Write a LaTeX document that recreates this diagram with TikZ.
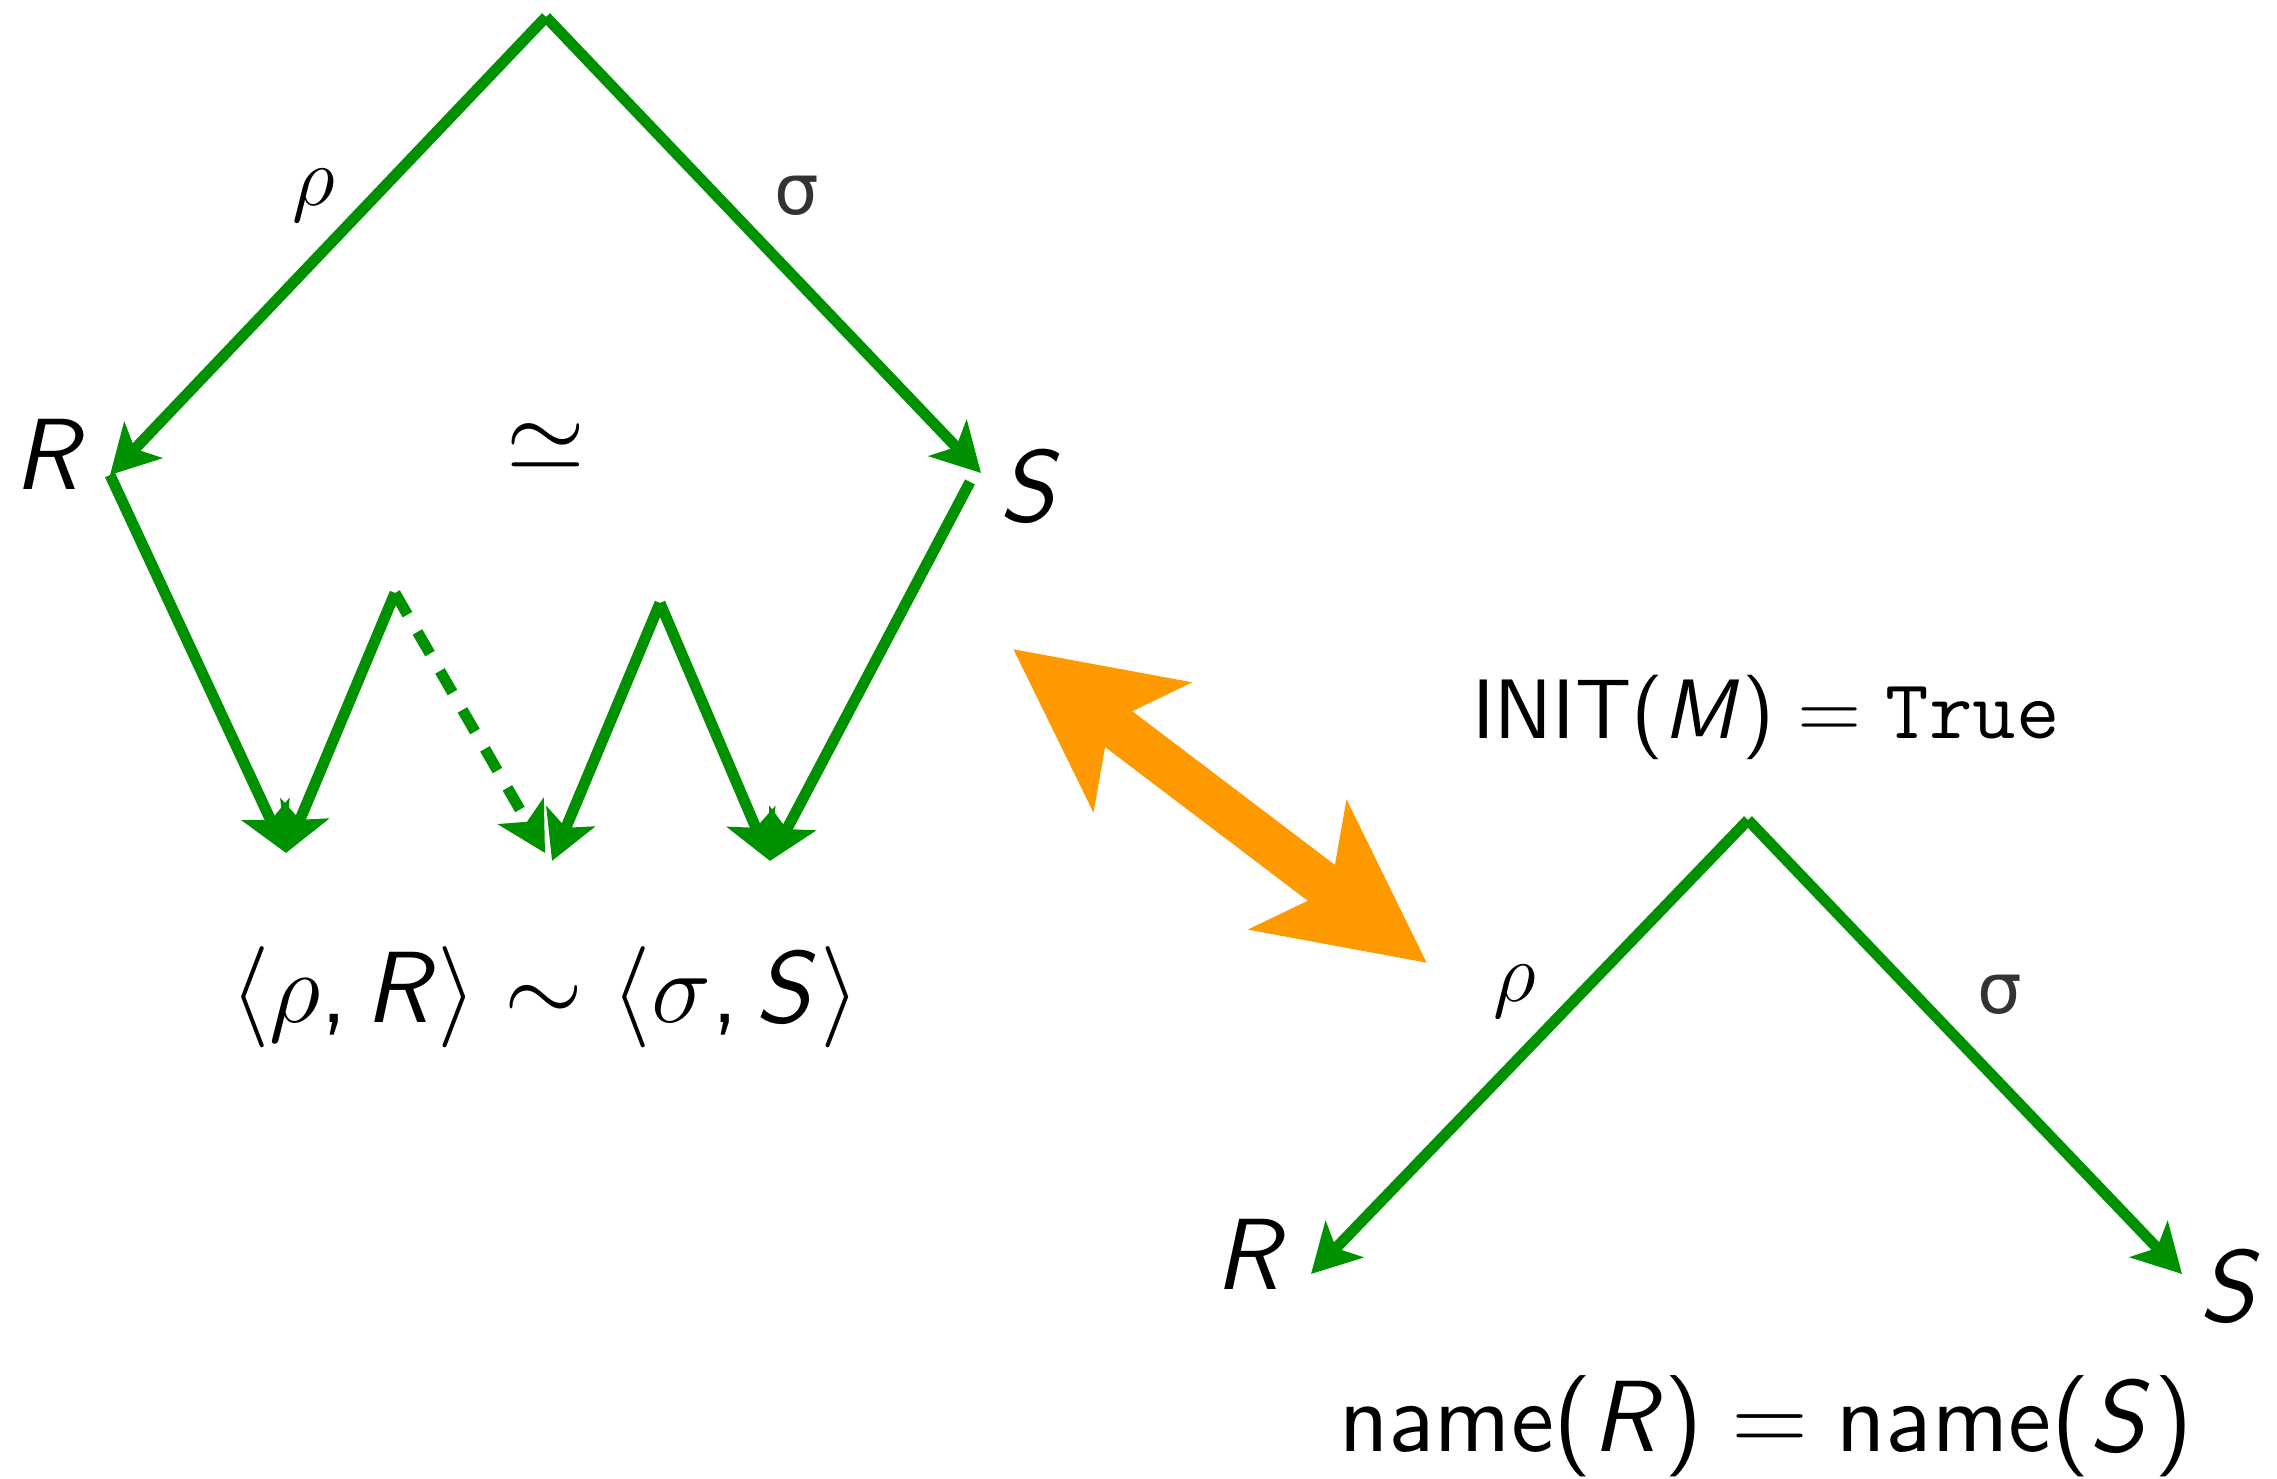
\documentclass[tikz,border=0pt]{standalone}
\usepackage[no-math]{fontspec}
\renewcommand\sfdefault{cmss}
\usepackage{sansmath}
\renewcommand\sfdefault{lmss}
\usetikzlibrary{arrows.meta}
\newfontfamily\greeksans{DejaVu Sans}
\definecolor{mapgreen}{RGB}{0,145,0}
\definecolor{linkorange}{RGB}{255,153,0}
\begin{document}
\begin{tikzpicture}[x=1cm,y=1cm,
    garrow/.style={color=mapgreen,line width=0.11cm,-{Stealth[length=0.48cm,width=0.52cm,inset=0.12cm]}},
    gdash/.style={garrow,dash pattern=on 0.25cm off 0.2cm},
    bigarrow/.style={color=linkorange,line width=0.45cm,
      {Stealth[length=1.6cm,width=1.58cm,inset=0.39cm]}-{Stealth[length=1.6cm,width=1.58cm,inset=0.39cm]}},
    lbl/.style={font=\sffamily\sansmath\fontsize{14}{17}\selectfont,scale=2,inner sep=0pt},
    ilbl/.style={font=\sffamily\sansmath\fontsize{12}{14}\selectfont,scale=2,inner sep=0pt},
    elbl/.style={font=\sffamily\sansmath\fontsize{12}{14}\selectfont,scale=2,inner sep=0pt},
    slbl/.style={font=\greeksans\fontsize{10}{12}\selectfont,scale=2,text=black!80,inner sep=0pt}]
  \useasboundingbox (0,0) rectangle (22.77,14.79);
  % left picture
  \coordinate (top) at (5.46,14.62);
  \coordinate (r)   at (1.10,10.04) node (rlab) at (0.51,10.25) [lbl] {$R$};
  \coordinate (s)   at (9.81,10.06) node (slab) at (10.32,9.93) [lbl] {$S$};
  \coordinate (sfoot) at (9.70,9.97);
  \coordinate (p)   at (3.95,8.86);
  \coordinate (q)   at (6.60,8.76);
  \coordinate (u)   at (2.86,6.26);
  \coordinate (v)   at (5.45,6.26);
  \coordinate (vv)  at (5.52,6.18);
  \coordinate (w)   at (7.70,6.18);
  \node (rho)  at (3.14,12.83) [elbl] {$\rho$};
  \node (sig)  at (7.97,12.83) [slbl] {σ};
  \node (iso)  at (5.46,10.32) [lbl] {$\simeq$};
  \node (equiv) at (5.45,4.56) [lbl,anchor=base] {$\langle\rho, R\rangle \sim \langle\sigma, S\rangle$};
  \draw [garrow] (top)--(r);
  \draw [garrow] (top)--(s);
  \draw [garrow] (r)--(u);
  \draw [garrow] (p)--(u);
  \draw [gdash] (p)--(v);
  \draw [garrow] (q)--(vv);
  \draw [garrow] (q)--(w);
  \draw [garrow] (sfoot)--(w);
  % right picture
  \coordinate (top2) at (17.48,6.59);
  \coordinate (r2)   at (13.11,2.05) node (rlab2) at (12.52,2.25) [lbl] {$R$};
  \coordinate (s2)   at (21.82,2.05) node (slab2) at (22.32,1.93) [lbl] {$S$};
  \node (rho2) at (15.15,4.87) [elbl] {$\rho$};
  \node (sig2) at (20.00,4.84) [slbl] {σ};
  \node (init) at (17.66,7.40) [ilbl,anchor=base] {INIT$(M) = {}$\texttt{True}};
  \node (names) at (17.66,0.27) [lbl,anchor=base] {name$(R) = {}$name$(S)$};
  \draw [garrow] (top2)--(r2);
  \draw [garrow] (top2)--(s2);
  % link
  \coordinate (oa) at (10.13,8.30);
  \coordinate (ob) at (14.27,5.16);
  \draw [bigarrow] (oa)--(ob);
\end{tikzpicture}
\end{document}
